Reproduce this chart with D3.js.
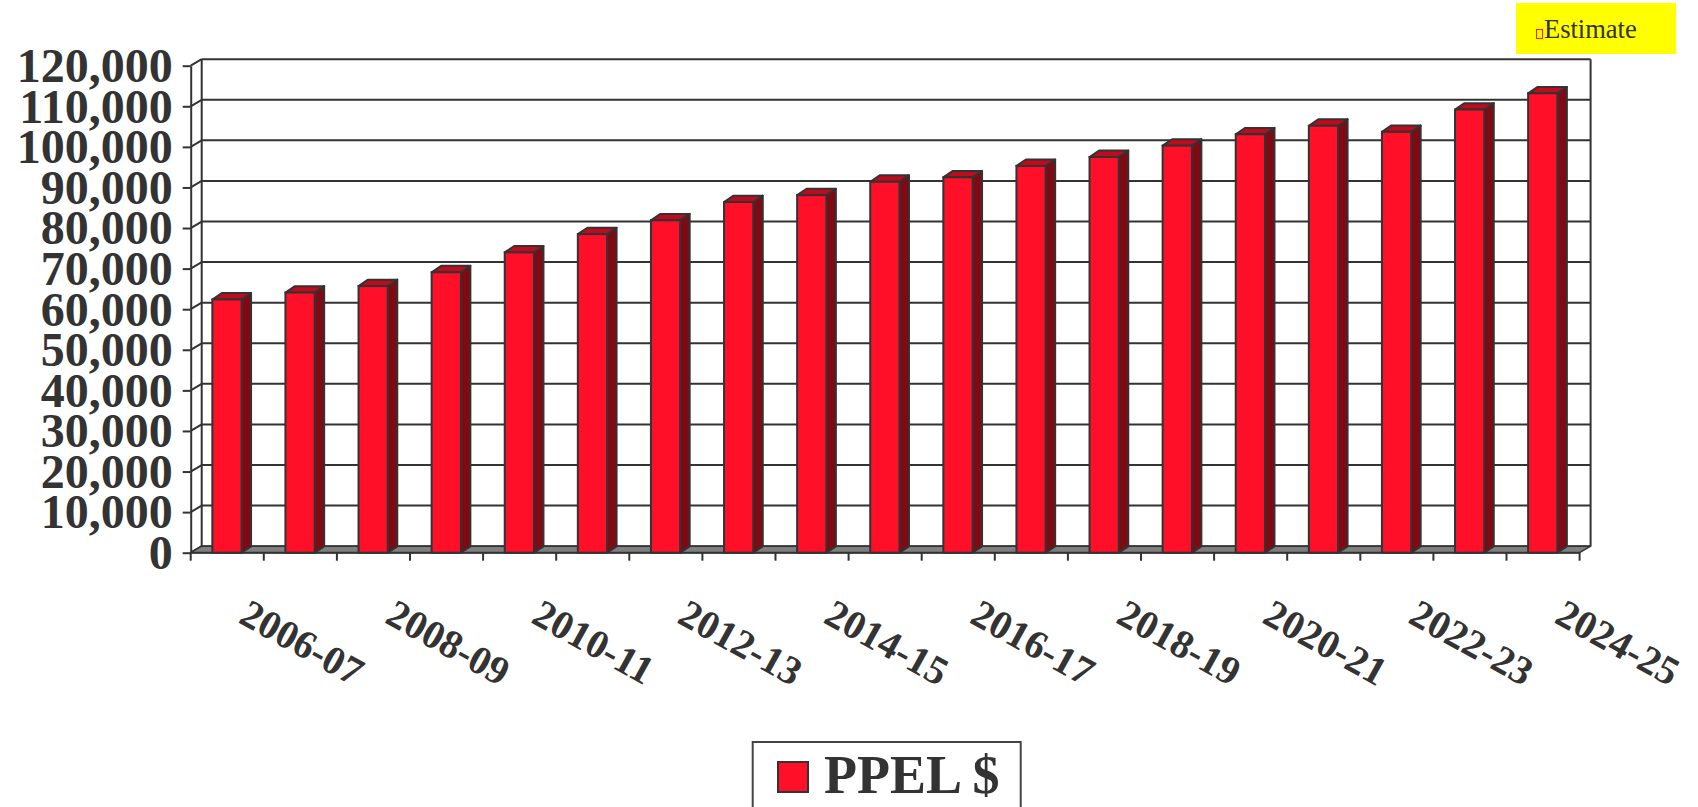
<!DOCTYPE html>
<html>
<head>
<meta charset="utf-8">
<script src="https://cdn.jsdelivr.net/npm/d3@7"></script>
<style>
  html, body { margin: 0; padding: 0; background: #ffffff; }
  svg { display: block; }
  text { font-family: "Liberation Serif", "Times New Roman", serif; fill: #333333; }
</style>
</head>
<body>
<svg id="chart" width="1698" height="807"></svg>
<script>
// ---- data ----
const categories = ["2006-07","2007-08","2008-09","2009-10","2010-11","2011-12","2012-13","2013-14","2014-15","2015-16",
                    "2016-17","2017-18","2018-19","2019-20","2020-21","2021-22","2022-23","2023-24","2024-25"];
const ppelValues = [62400, 64100, 65700, 69100, 74000, 78500, 81900, 86400, 88100, 91400,
                    92500, 95300, 97500, 100300, 103100, 105200, 103700, 109200, 113200];
const yTickValues = [0, 10000, 20000, 30000, 40000, 50000, 60000, 70000, 80000, 90000, 100000, 110000, 120000];
const xLabelCategories = ["2006-07","2008-09","2010-11","2012-13","2014-15","2016-17","2018-19","2020-21","2022-23","2024-25"];
const seriesName = "PPEL $";
const noteText = "Estimate";

// ---- layout ----
const svg = d3.select("#chart");
const X0 = 190.7, X1 = 1579.6, YBOT = 552.7, YTOP = 65.7;
const wallDX = 11, wallDY = -6.5;     // depth of the chart box
const barDX = 9.5, barDY = -6.4;      // depth of each bar
const stroke = "#333333";

const x = d3.scaleBand().domain(categories).range([X0, X1]).padding(0);
const y = d3.scaleLinear().domain([0, 120000]).range([YBOT, YTOP]);

// ---- back wall gridlines ----
const gGrid = svg.append("g");
gGrid.selectAll("line.grid").data(yTickValues).join("line")
  .attr("x1", X0 + wallDX).attr("x2", X1 + wallDX)
  .attr("y1", d => y(d) + wallDY).attr("y2", d => y(d) + wallDY)
  .attr("stroke", stroke).attr("stroke-width", 2);
// back wall right + left edges
gGrid.append("line").attr("x1", X1 + wallDX).attr("x2", X1 + wallDX)
  .attr("y1", y(120000) + wallDY).attr("y2", y(0) + wallDY)
  .attr("stroke", stroke).attr("stroke-width", 2);
gGrid.append("line").attr("x1", X0 + wallDX).attr("x2", X0 + wallDX)
  .attr("y1", y(120000) + wallDY).attr("y2", y(0) + wallDY)
  .attr("stroke", stroke).attr("stroke-width", 2);
// side wall diagonals
gGrid.selectAll("line.diag").data(yTickValues).join("line")
  .attr("x1", X0).attr("x2", X0 + wallDX)
  .attr("y1", d => y(d)).attr("y2", d => y(d) + wallDY)
  .attr("stroke", stroke).attr("stroke-width", 2);

// ---- floor ----
svg.append("polygon")
  .attr("points", [[X0, y(0)], [X1, y(0)], [X1 + wallDX, y(0) + wallDY], [X0 + wallDX, y(0) + wallDY]].map(p => p.join(",")).join(" "))
  .attr("fill", "#808080").attr("stroke", stroke).attr("stroke-width", 1.5).attr("stroke-linejoin", "round");

// ---- y axis ----
const yAxis = d3.axisLeft(y).tickValues(yTickValues).tickSize(8).tickSizeOuter(0).tickPadding(10)
  .tickFormat(d3.format(","));
const gy = svg.append("g").attr("transform", `translate(${X0},0)`).call(yAxis);
gy.select(".domain").attr("stroke", stroke).attr("stroke-width", 2);
gy.selectAll(".tick line").attr("stroke", stroke).attr("stroke-width", 2);
gy.selectAll(".tick text")
  .attr("fill", "#333333")
  .style("font-family", '"Liberation Serif", "Times New Roman", serif')
  .style("font-size", "48px").style("font-weight", "bold")
  .attr("dy", "0.33em");

// ---- x axis baseline + ticks ----
svg.append("line").attr("x1", X0).attr("x2", X1).attr("y1", y(0)).attr("y2", y(0))
  .attr("stroke", stroke).attr("stroke-width", 2);
const boundaries = categories.map(c => x(c)).concat([x(categories[categories.length - 1]) + x.bandwidth()]);
svg.selectAll("line.xtick").data(boundaries).join("line")
  .attr("x1", d => d).attr("x2", d => d).attr("y1", y(0)).attr("y2", y(0) + 8)
  .attr("stroke", stroke).attr("stroke-width", 2);

// ---- bars ----
const bw = x.bandwidth() * 0.4;
const gBars = svg.append("g");
categories.forEach((c, i) => {
  const v = ppelValues[i];
  const xl = x(c) + (x.bandwidth() - bw) / 2 - 0.3;
  const xr = xl + bw;
  const yt = y(v), yb = y(0);
  // side
  gBars.append("polygon")
    .attr("points", [[xr, yt], [xr + barDX, yt + barDY], [xr + barDX, yb + barDY], [xr, yb]].map(p => p.join(",")).join(" "))
    .attr("fill", "#7F0A14").attr("stroke", stroke).attr("stroke-width", 2).attr("stroke-linejoin", "round");
  // top
  gBars.append("polygon")
    .attr("points", [[xl, yt], [xl + barDX, yt + barDY], [xr + barDX, yt + barDY], [xr, yt]].map(p => p.join(",")).join(" "))
    .attr("fill", "#C20A1E").attr("stroke", stroke).attr("stroke-width", 2).attr("stroke-linejoin", "round");
  // front
  gBars.append("rect")
    .attr("x", xl).attr("y", yt).attr("width", bw).attr("height", yb - yt)
    .attr("fill", "#FF1028").attr("stroke", stroke).attr("stroke-width", 2);
});

// ---- x labels ----
svg.selectAll("text.xlab").data(xLabelCategories).join("text")
  .attr("class", "xlab")
  .attr("transform", d => `translate(${x(d) + x.bandwidth() / 2 + 10},622) rotate(29)`)
  .attr("text-anchor", "start")
  .style("font-size", "40px").style("font-weight", "bold")
  .text(d => d);

// ---- estimate note ----
svg.append("rect").attr("x", 1516).attr("y", 3).attr("width", 160).attr("height", 51).attr("fill", "#FFFF00");
svg.append("rect").attr("x", 1536.5).attr("y", 29.5).attr("width", 6).attr("height", 9)
  .attr("fill", "none").attr("stroke", "#FF2000").attr("stroke-width", 1);
svg.append("text").attr("x", 1544).attr("y", 37.7)
  .style("font-size", "26.5px").text(noteText);

// ---- legend ----
svg.append("rect").attr("x", 752.7).attr("y", 742).attr("width", 268).attr("height", 80)
  .attr("fill", "#ffffff").attr("stroke", "#444444").attr("stroke-width", 2);
svg.append("rect").attr("x", 778).attr("y", 762).attr("width", 30).attr("height", 30)
  .attr("fill", "#FF1028").attr("stroke", stroke).attr("stroke-width", 2);
svg.append("text").attr("x", 824).attr("y", 793)
  .style("font-size", "54px").style("font-weight", "bold").text(seriesName);
</script>
</body>
</html>
